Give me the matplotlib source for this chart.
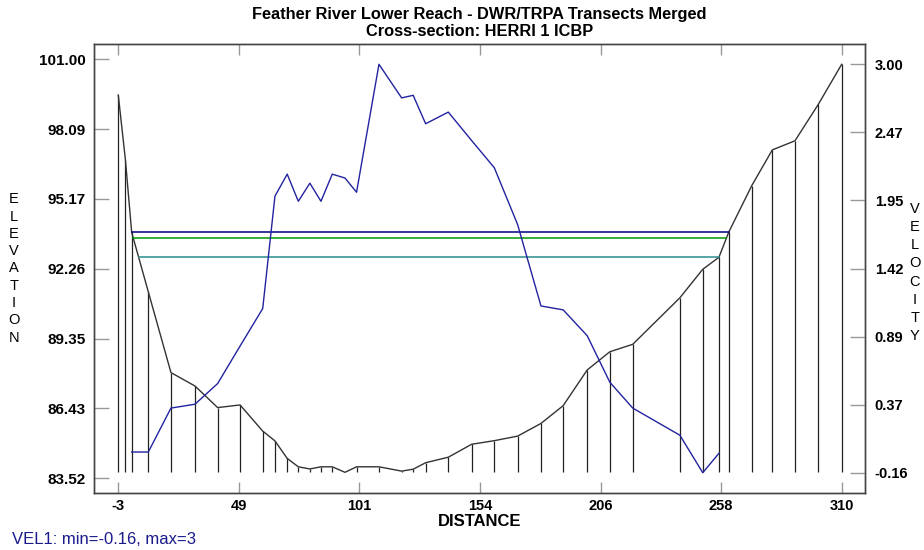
import numpy as np
import matplotlib
matplotlib.use("Agg")
import matplotlib.pyplot as plt

plt.rcParams['font.family'] = ['Liberation Sans', 'DejaVu Sans']

# ---- data ----
station = [-3, 0.1, 2.8, 10.0, 19.8, 30.2, 40.0, 49.7, 59.5, 64.8, 70.1, 74.9, 79.9,
           84.7, 89.6, 95.1, 100.1, 109.8, 119.6, 124.6, 130.0, 139.8, 149.9, 159.7,
           169.8, 179.9, 189.5, 199.9, 209.7, 219.6, 240.0, 249.9, 256.9, 261.1, 271.1,
           280.0, 289.8, 299.9, 310.0]
elevation = [99.51, 96.80, 93.78, 91.30, 87.93, 87.37, 86.47, 86.58, 85.49, 85.08, 84.35,
             84.00, 83.91, 84.00, 84.00, 83.77, 84.00, 84.00, 83.82, 83.90, 84.17, 84.40,
             84.94, 85.09, 85.28, 85.81, 86.55, 88.04, 88.80, 89.11, 91.05, 92.24, 92.74,
             93.78, 95.73, 97.22, 97.60, 99.12, 100.79]
vel_station = [2.8, 10.0, 19.8, 30.2, 40.0, 49.7, 59.5, 64.8, 70.1, 74.9, 79.9, 84.7, 89.6,
               95.1, 100.1, 109.8, 119.6, 124.6, 130.0, 139.8, 149.9, 159.7, 169.8, 179.9,
               189.5, 199.9, 209.7, 219.6, 240.0, 249.9, 256.9]
velocity = [0.00, 0.00, 0.34, 0.37, 0.53, 0.82, 1.11, 1.98, 2.15, 1.94, 2.08, 1.94, 2.15,
            2.12, 2.01, 3.00, 2.74, 2.76, 2.54, 2.63, 2.41, 2.20, 1.76, 1.13, 1.10, 0.90,
            0.54, 0.34, 0.13, -0.16, -0.01]
water_levels = [93.78, 93.53, 92.74]
water_colors = ['#000080', '#009900', '#2a8c8c']

elev_ticks = np.linspace(83.52, 101.00, 7)
vel_ticks = np.linspace(-0.16, 3.00, 7)
dist_ticks = np.linspace(-3, 310, 7)

title1 = "Feather River Lower Reach - DWR/TRPA Transects Merged"
title2 = "Cross-section: HERRI 1 ICBP"

# ---- figure ----
W, H = 924, 550
fig = plt.figure(figsize=(W / 100, H / 100), dpi=100)
L, R, T, B = 94, 865, 44, 493
ax = fig.add_axes([L / W, 1 - B / H, (R - L) / W, (B - T) / H])

st = np.array(station)
el = np.array(elevation)
base = el.min()

# verticals from each ground point
ax.vlines(st, base, el, colors='#222222', linewidth=0.9, zorder=2)
ax.plot(st, el, color='#333333', linewidth=1.0, zorder=3)

# water surface lines between ground crossings
def crossing(i0, i1, lev):
    x0, x1 = st[i0], st[i1]
    y0, y1 = el[i0], el[i1]
    return x0 + (lev - y0) * (x1 - x0) / (y1 - y0)

for lev, col in zip(water_levels, water_colors):
    below = np.where(el < lev + 1e-9)[0]
    first, last = below[0], below[-1]
    xl = crossing(first - 1, first, lev) if first > 0 else st[0]
    xr = crossing(last, last + 1, lev) if last < len(st) - 1 else st[-1]
    ax.plot([xl, xr], [lev, lev], color=col, linewidth=1.1, zorder=4)

ax.set_xlim(-13.5, 320.1)
ax.set_ylim(82.907, 101.638)
ax.set_xticks(dist_ticks)
ax.set_xticklabels([f"{v:.0f}" for v in dist_ticks])
ax.set_yticks(elev_ticks)
ax.set_yticklabels([f"{v:.2f}" for v in elev_ticks])

ax2 = ax.twinx()
ax2.plot(vel_station, velocity, color='#2323a0', linewidth=1.0, zorder=5)
ax2.set_ylim(-0.317, 3.157)
ax2.set_yticks(vel_ticks)
ax2.set_yticklabels([f"{v:.2f}" for v in vel_ticks])

for a in (ax, ax2):
    for s in a.spines.values():
        s.set_color('#444444')
        s.set_linewidth(1.0)

ax.tick_params(axis='x', direction='in', length=8, width=1, color='#999999', top=True,
               labelsize=10.5, pad=4)
ax.tick_params(axis='y', direction='in', length=11, width=1, color='#999999',
               labelsize=11, pad=6)
ax2.tick_params(axis='y', direction='in', length=11, width=1, color='#999999',
                labelsize=10.5, pad=7)
for lab in ax.get_xticklabels() + ax.get_yticklabels() + ax2.get_yticklabels():
    lab.set_fontweight('bold')

cx = (L + R) / 2 / W
fig.text(cx, 1 - 14 / H, title1, ha='center', va='center', fontsize=11.8,
         fontweight='bold')
fig.text(cx, 1 - 31 / H, title2, ha='center', va='center', fontsize=11.8,
         fontweight='bold')
fig.text(cx, 1 - 521 / H, "DISTANCE", ha='center', va='center',
         fontsize=12, fontweight='bold')
fig.text(14 / W, 1 - 268.5 / H, "\n".join("ELEVATION"), ha='center', va='center',
         fontsize=10.5, linespacing=1.3)
fig.text(915 / W, 1 - 272.5 / H, "\n".join("VELOCITY"), ha='center', va='center',
         fontsize=10.5, linespacing=1.38)
fig.text(12 / W, 1 - 540 / H, "VEL1: min=-0.16, max=3", ha='left', va='center',
         fontsize=12, color='#1a1a8c')

fig.savefig("out.png", dpi=100)
